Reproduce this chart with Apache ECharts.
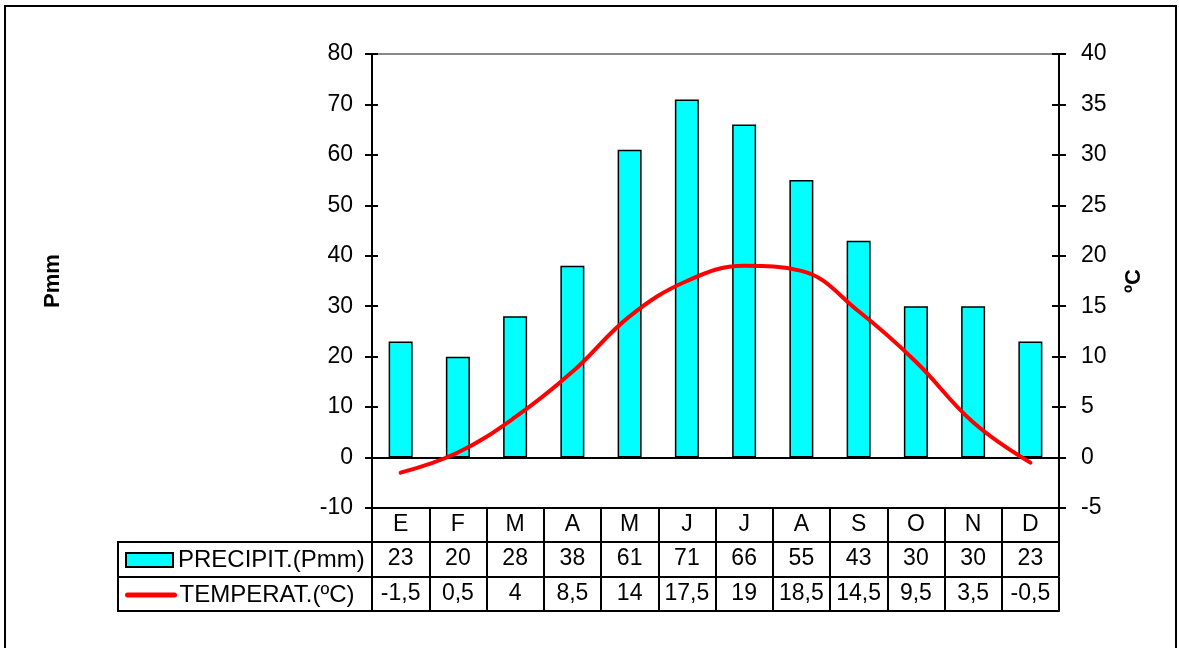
<!DOCTYPE html>
<html><head><meta charset="utf-8">
<script src="https://cdn.jsdelivr.net/npm/echarts@6/dist/echarts.min.js"></script>
<style>html,body{margin:0;padding:0;background:#fff}#c{width:1179px;height:648px}</style>
</head><body><div id="c"></div>
<script>
const months = ['E','F','M','A','M','J','J','A','S','O','N','D'];
const precip = [23,20,28,38,61,71,66,55,43,30,30,23];
const temp = [-1.5,0.5,4,8.5,14,17.5,19,18.5,14.5,9.5,3.5,-0.5];
const leftTicks = {min:-10, max:80, interval:10};
const rightTicks = {min:-5, max:40, interval:5};
const precipName = 'PRECIPIT.(Pmm)';
const tempName = 'TEMPERAT.(ºC)';

const FONT = 'Liberation Sans, Arial, sans-serif';
const FS = 23;
const fmt = v => String(v).replace('.', ',');

function tableAxis(offset, formatter, showLabels, showTicks){
  return {
    type:'category', data:months, gridIndex:0, position:'bottom', offset:offset,
    boundaryGap:true,
    axisLine:{show:true, onZero:false, lineStyle:{color:'#000', width:2}},
    axisTick:{show:showTicks, alignWithLabel:false, length:34, inside:false, lineStyle:{color:'#000', width:2}},
    axisLabel:{show:showLabels, formatter:formatter, fontSize:FS, color:'#000', fontFamily:FONT, margin:17, verticalAlign:'middle', interval:0},
    splitLine:{show:false}
  };
}
function yAx(t, pos, opts){
  return Object.assign({
    type:'value', position:pos, min:t.min, max:t.max, interval:t.interval,
    axisLine:{show:true, onZero:false, lineStyle:{color:'#000', width:2}},
    axisTick:{show:true, length:7, inside:false, lineStyle:{color:'#000', width:2}},
    axisLabel:{show:true, fontSize:FS, color:'#000', fontFamily:FONT, margin:pos==='left'?19:22},
    splitLine:{show:false}
  }, opts);
}
const nameStyle = {fontSize:22, fontWeight:'bold', color:'#000', fontFamily:FONT};
const legendText = {fontSize:24, color:'#000', fontFamily:FONT};

const chart = echarts.init(document.getElementById('c'));
chart.setOption({
  animation:false,
  backgroundColor:'#fff',
  grid:{left:372, right:120, top:54, bottom:140, show:true, borderColor:'#888', borderWidth:2, backgroundColor:'transparent'},
  legend:[
    {left:120, top:543, itemWidth:47, itemHeight:14, textStyle:legendText,
     data:[{name:precipName, icon:'rect'}]},
    {left:120, top:578, itemWidth:47, itemHeight:14, textStyle:legendText,
     lineStyle:{width:5, cap:'round', color:'#FF0000'},
     data:[{name:tempName, itemStyle:{opacity:0}}]}
  ],
  xAxis:[
    tableAxis(0, null, true, true),
    tableAxis(34, (v,i)=>String(precip[i]), true, true),
    tableAxis(69, (v,i)=>fmt(temp[i]), true, true),
    tableAxis(103, null, false, false)
  ],
  yAxis:[
    yAx(leftTicks, 'left', {name:'Pmm', nameLocation:'middle', nameGap:308, nameTextStyle:nameStyle}),
    yAx(rightTicks, 'right', {name:'ºC', nameLocation:'middle', nameRotate:90, nameGap:64, nameTextStyle:nameStyle}),
    yAx(leftTicks, 'left', {axisTick:{show:true, length:6, inside:true, lineStyle:{color:'#000', width:2}}, axisLabel:{show:false}}),
    yAx(rightTicks, 'right', {axisTick:{show:true, length:7, inside:true, lineStyle:{color:'#000', width:2}}, axisLabel:{show:false}})
  ],
  series:[
    {
      name:precipName, type:'bar', xAxisIndex:0, yAxisIndex:0, data:precip, barWidth:24,
      itemStyle:{color:'#00FFFF', borderColor:'#000', borderWidth:1.5},
      markLine:{silent:true, symbol:'none', label:{show:false}, lineStyle:{color:'#000', width:2, type:'solid'}, data:[{yAxis:0}]}
    },
    {
      name:tempName, type:'line', xAxisIndex:0, yAxisIndex:1, data:temp, smooth:0.4, symbol:'none', showSymbol:false,
      lineStyle:{color:'#FF0000', width:4, cap:'round'}, itemStyle:{color:'#FF0000'}, z:5
    }
  ],
  graphic:[
    {type:'rect', shape:{x:5, y:6, width:1171, height:700}, style:{fill:'none', stroke:'#000', lineWidth:2}, silent:true},
    {type:'rect', shape:{x:118, y:542, width:254, height:69}, style:{fill:'none', stroke:'#000', lineWidth:2}, silent:true},
    {type:'line', shape:{x1:118, y1:577, x2:372, y2:577}, style:{stroke:'#000', lineWidth:2}, silent:true}
  ]
});
</script></body></html>
